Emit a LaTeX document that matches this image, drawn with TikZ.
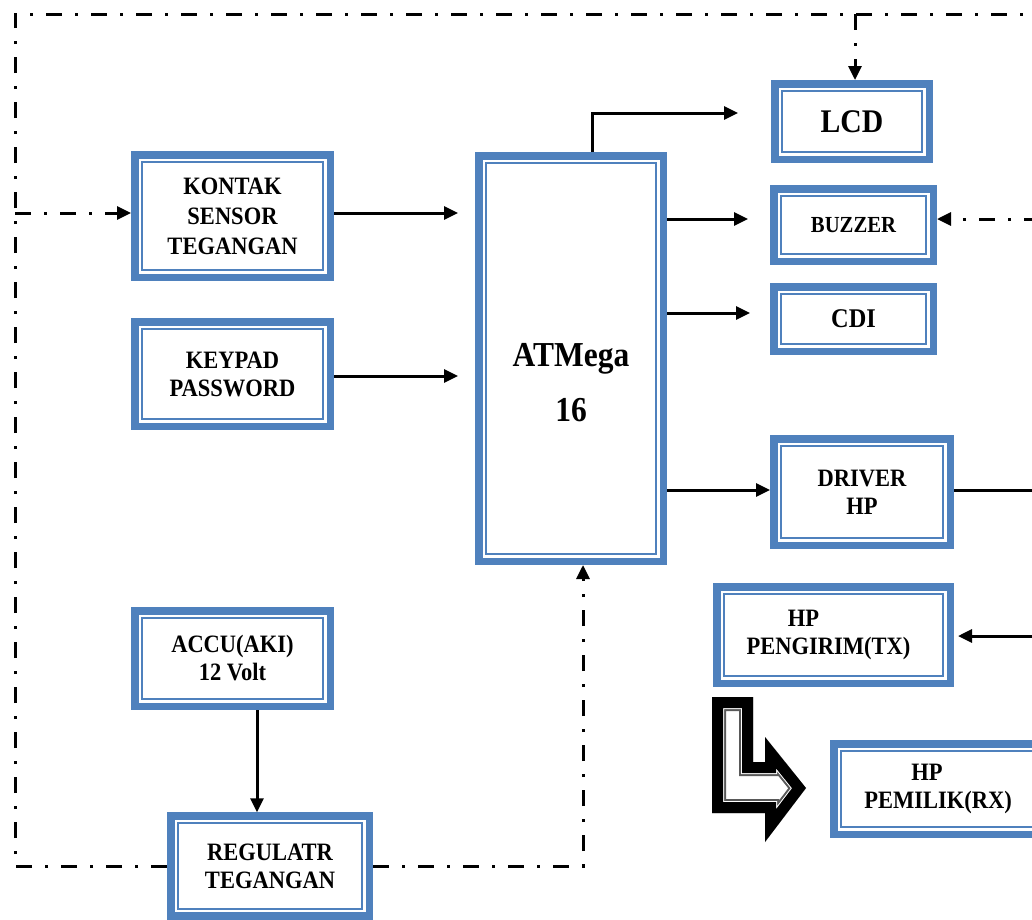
\documentclass[tikz,border=0pt]{standalone}
\usepackage{fontspec}
\setmainfont{Liberation Serif}[FakeStretch=0.9]
\usetikzlibrary{arrows.meta,calc}
\definecolor{boxblue}{HTML}{4F81BD}
\tikzset{
  blk/.style={draw=boxblue, line width=7.5pt, fill=white, inner sep=0pt, align=center,
    font=\bfseries\fontsize{25}{28}\selectfont,
    path picture={\draw[boxblue, line width=2pt]
      ([shift={(7.25,7.25)}]path picture bounding box.north west) rectangle
      ([shift={(-7.25,-7.25)}]path picture bounding box.south east);}},
  arr/.style={line width=3pt, -{Triangle[length=14pt,width=13pt]}},
  sline/.style={line width=3pt},
  ddash/.style={line width=3pt, dash pattern=on 16pt off 13pt on 3pt off 13pt},
}
\begin{document}
\begin{tikzpicture}[x=1pt,y=-1pt]
\useasboundingbox (0,0) rectangle (1032,919);
\clip (0,0) rectangle (1032,919);

% blocks
\node[blk, minimum width=195.5pt, minimum height=122.5pt, font=\bfseries\fontsize{25}{30}\selectfont] (kontak) at (232.5,216) {KONTAK\\SENSOR\\TEGANGAN};
\node[blk, minimum width=195.5pt, minimum height=104.5pt] (kp) at (232.5,374) {KEYPAD\\PASSWORD};
\node[blk, minimum width=184.5pt, minimum height=405.5pt, font=\bfseries\fontsize{35}{40}\selectfont,
  label={[font=\bfseries\fontsize{35}{40}\selectfont, yshift=-52pt]center:16}] (atm) at (571,358.5) {ATMega};
\node[blk, minimum width=154.5pt, minimum height=75.5pt, font=\bfseries\fontsize{33}{36}\selectfont] (lcd) at (852,121.5) {LCD};
\node[blk, minimum width=159.5pt, minimum height=72.5pt, font=\bfseries\fontsize{23}{26}\selectfont] (bz) at (853.5,225) {BUZZER};
\node[blk, minimum width=159.5pt, minimum height=64.5pt, font=\bfseries\fontsize{27}{30}\selectfont] (cdi) at (853.5,319) {CDI};
\node[blk, minimum width=176.5pt, minimum height=106.5pt] (drv) at (862,492) {DRIVER\\HP};
\node[blk, minimum width=233.5pt, minimum height=96.5pt] (tx) at (833.5,635) {HP\hspace*{60pt}\\PENGIRIM(TX)\hspace*{10pt}};
\node[blk, minimum width=208.5pt, minimum height=90.5pt] (rx) at (938,789) {HP\hspace*{22pt}\\PEMILIK(RX)};
\node[blk, minimum width=195.5pt, minimum height=95.5pt] (acc) at (232.5,658.5) {ACCU(AKI)\\12 Volt};
\node[blk, minimum width=198.5pt, minimum height=100pt] (reg) at (270,866) {REGULATR\\TEGANGAN};

% coordinates for free ends
\coordinate (cl) at (15,866);
\coordinate (ctl) at (15,14);
\coordinate (ctr) at (1040,14);
\coordinate (jk) at (15,213);
\coordinate (jt) at (855,14);
\coordinate (kin) at (458,213);
\coordinate (kpin) at (458,376);
\coordinate (lcdin) at (738,113);
\coordinate (bzin) at (748,219);
\coordinate (cdin) at (750,313);
\coordinate (drvr) at (1040,490);
\coordinate (txr) at (1040,636);
\coordinate (bzr) at (1040,219);
\coordinate (rr) at (583,866);

% dash-dot loop
\draw[ddash] (reg.west |- cl) -- (cl) -- (ctl) -- (ctr);
\draw[ddash, arr] (jk) -- (jk -| kontak.west);
\draw[ddash, arr] (jt) -- (jt |- lcd.north);
\draw[ddash, arr] (bzr) -- (bzr -| bz.east);
\draw[ddash, arr] (reg.east |- rr) -- (rr) -- (rr |- atm.south);

% solid connectors
\draw[arr] (kontak.east |- kin) -- (kin);
\draw[arr] (kp.east |- kpin) -- (kpin);
\draw[arr] ([xshift=21pt]atm.north) |- (lcdin);
\draw[arr] (atm.east |- bzin) -- (bzin);
\draw[arr] (atm.east |- cdin) -- (cdin);
\draw[arr] (atm.east |- drvr) -- (drvr -| drv.west);
\draw[sline] (drv.east |- drvr) -- (drvr);
\draw[arr, shorten >=4pt] (txr) -- (txr -| tx.east);
\draw[arr] ([xshift=24.5pt]acc.south) -- ([xshift=24.5pt]acc.south |- reg.north);

% hollow bent arrow
\begin{scope}
\clip (712,697) -- (753,697) -- (753,762) -- (765,762) -- (765,737) -- (806,788) -- (765,842) -- (765,813) -- (712,813) -- cycle;
\draw[line width=28pt, black!65] (712,697) -- (753,697) -- (753,762) -- (765,762) -- (765,737) -- (806,788) -- (765,842) -- (765,813) -- (712,813) -- cycle;
\draw[line width=24pt, white] (712,697) -- (753,697) -- (753,762) -- (765,762) -- (765,737) -- (806,788) -- (765,842) -- (765,813) -- (712,813) -- cycle;
\draw[line width=22pt, black] (712,697) -- (753,697) -- (753,762) -- (765,762) -- (765,737) -- (806,788) -- (765,842) -- (765,813) -- (712,813) -- cycle;
\end{scope}
\end{tikzpicture}
\end{document}
